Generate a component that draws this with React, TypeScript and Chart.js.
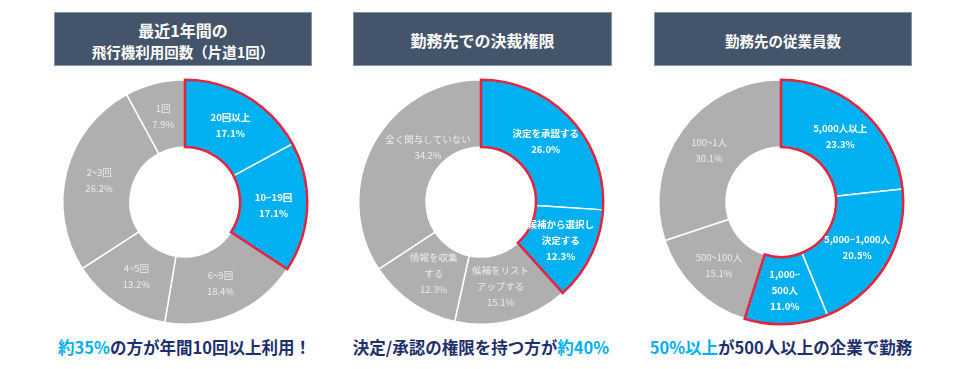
import React, { useEffect, useRef } from "react";
import { Chart, registerables } from "chart.js";
Chart.register(...registerables);

// ---- data ----
const flightLabels = [["20回以上"], ["10~19回"], ["6~9回"], ["4~5回"], ["2~3回"], ["1回"]];
const flightValues = [17.1, 17.1, 18.4, 13.2, 26.2, 7.9];
const flightHighlight = 2;

const authorityLabels = [["決定を承認する"], ["候補から選択し", "決定する"], ["候補をリスト", "アップする"], ["情報を収集", "する"], ["全く関与していない"]];
const authorityValues = [26.0, 12.3, 15.1, 12.3, 34.2];
const authorityHighlight = 2;

const employeeLabels = [["5,000人以上"], ["5,000~1,000人"], ["1,000~", "500人"], ["500~100人"], ["100~1人"]];
const employeeValues = [23.3, 20.5, 11.0, 15.1, 30.1];
const employeeHighlight = 3;

const titles = [["最近1年間の", "飛行機利用回数（片道1回）"], ["勤務先での決裁権限"], ["勤務先の従業員数"]];
const captions = [
  [{ t: "約35%", hi: true }, { t: "の方が年間10回以上利用！", hi: false }],
  [{ t: "決定/承認の権限を持つ方が", hi: false }, { t: "約40%", hi: true }],
  [{ t: "50%以上", hi: true }, { t: "が500人以上の企業で勤務", hi: false }],
];

const BLUE = "#00b0f0";
const GRAY = "#afafaf";
const RED = "#e4233d";
const NAVY = "#1f2f6e";
const FONT = '"Noto Sans CJK JP", "Noto Sans", sans-serif';

function Donut({ labels, values, highlight, left }: { labels: string[][]; values: number[]; highlight: number; left: number }) {
  const ref = useRef<HTMLCanvasElement>(null);
  useEffect(() => {
    const colors = values.map((_, i) => (i < highlight ? BLUE : GRAY));
    const plugin = {
      id: "donutExtras",
      afterDatasetsDraw(chart: any) {
        const ctx = chart.ctx;
        const arcs = chart.getDatasetMeta(0).data;
        const first = arcs[0];
        const last = arcs[highlight - 1];
        const x = first.x, y = first.y;
        const ro = first.outerRadius, ri = first.innerRadius;
        ctx.save();
        ctx.beginPath();
        ctx.arc(x, y, ro, first.startAngle, last.endAngle);
        ctx.arc(x, y, ri, last.endAngle, first.startAngle, true);
        ctx.closePath();
        ctx.strokeStyle = RED;
        ctx.lineWidth = 2.5;
        ctx.stroke();
        ctx.restore();
        ctx.save();
        ctx.textAlign = "center";
        ctx.textBaseline = "middle";
        const lh = 16;
        arcs.forEach((a: any, i: number) => {
          const mid = (a.startAngle + a.endAngle) / 2;
          const r = (a.innerRadius + a.outerRadius) / 2;
          const lines = [...labels[i], values[i].toFixed(1) + "%"];
          const hi = i < highlight;
          ctx.font = (hi ? "bold " : "") + "9.5px " + FONT;
          let cx = a.x + Math.cos(mid) * r;
          let cy = a.y + Math.sin(mid) * r;
          // keep wide labels inside the outer ring (shift horizontally toward the centre)
          const w = Math.max(...lines.map((ln) => ctx.measureText(ln).width));
          const h = lines.length * lh;
          for (let k = 0; k < 60 && !hi; k++) {
            const corners = [
              [cx - w / 2, cy - h / 2],
              [cx + w / 2, cy - h / 2],
              [cx - w / 2, cy + h / 2],
              [cx + w / 2, cy + h / 2],
            ];
            const over = corners.some(([px, py]) => Math.hypot(px - a.x, py - a.y) > a.outerRadius - 3);
            if (!over) break;
            cx += Math.sign(a.x - cx);
            cy -= 0.5;
          }
          ctx.fillStyle = hi ? "#ffffff" : "#ececec";
          lines.forEach((ln, k) => {
            ctx.fillText(ln, cx, cy + (k - (lines.length - 1) / 2) * lh);
          });
        });
        ctx.restore();
      },
    };
    const chart = new Chart(ref.current!, {
      type: "doughnut",
      data: {
        labels: labels.map((l) => l.join("")),
        datasets: [
          {
            data: values,
            backgroundColor: colors,
            borderColor: "#ffffff",
            borderWidth: 1.5,
          },
        ],
      },
      options: {
        responsive: false,
        animation: false,
        cutout: "45%",
        layout: { padding: 7 },
        plugins: { legend: { display: false }, tooltip: { enabled: false } },
      },
      plugins: [plugin],
    });
    return () => chart.destroy();
  }, []);
  return <canvas ref={ref} width={260} height={260} style={{ position: "absolute", left, top: 72, width: 260, height: 260 }} />;
}

export default function App() {
  const centers = [184.5, 481, 781];
  const boxes = [
    { left: 54, width: 258, sizes: [16, 14.5], pad: 4 },
    { left: 353, width: 259, sizes: [16], pad: 2 },
    { left: 654, width: 258, sizes: [14.5], pad: 2 },
  ];
  return (
    <div style={{ position: "absolute", left: 0, top: 0, width: 979, height: 369, background: "#fff", overflow: "hidden", fontFamily: FONT }}>
      {boxes.map((b, i) => (
        <div
          key={"t" + i}
          style={{
            position: "absolute",
            left: b.left,
            top: 12,
            width: b.width,
            height: 54,
            boxSizing: "border-box",
            paddingTop: b.pad,
            background: "#44546a",
            border: "1px solid #8393a8",
            color: "#fff",
            fontWeight: "bold",
            display: "flex",
            flexDirection: "column",
            alignItems: "center",
            justifyContent: "center",
            lineHeight: "21px",
          }}
        >
          {titles[i].map((t, k) => (
            <div key={k} style={{ fontSize: b.sizes[k] }}>{t}</div>
          ))}
        </div>
      ))}
      <Donut labels={flightLabels} values={flightValues} highlight={flightHighlight} left={centers[0] - 130} />
      <Donut labels={authorityLabels} values={authorityValues} highlight={authorityHighlight} left={centers[1] - 130} />
      <Donut labels={employeeLabels} values={employeeValues} highlight={employeeHighlight} left={centers[2] - 130} />
      {captions.map((c, i) => (
        <div
          key={"c" + i}
          style={{
            position: "absolute",
            left: centers[i] - 150,
            width: 300,
            top: 335,
            height: 24,
            lineHeight: "24px",
            textAlign: "center",
            fontSize: 16.5,
            fontWeight: "bold",
            color: NAVY,
            whiteSpace: "nowrap",
          }}
        >
          {c.map((s, k) => (
            <span key={k} style={{ color: s.hi ? BLUE : NAVY }}>{s.t}</span>
          ))}
        </div>
      ))}
    </div>
  );
}
